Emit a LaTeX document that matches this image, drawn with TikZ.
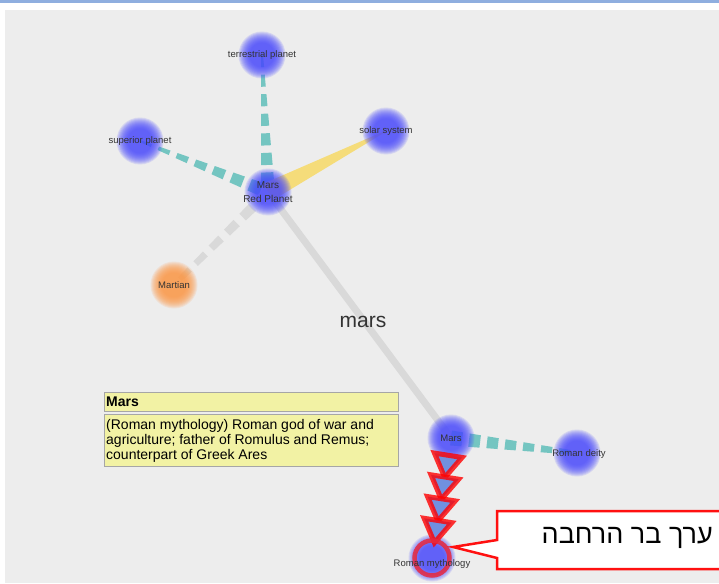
\documentclass[tikz,border=0pt]{standalone}
\usepackage{fontspec}
\setmainfont{Liberation Sans}
\newfontfamily\hebfont[Script=Hebrew]{Liberation Sans}
\TeXXeTstate=1
\usetikzlibrary{calc}
\definecolor{panel}{HTML}{EDEDED}
\definecolor{topbar}{HTML}{8FAEDF}
\definecolor{tealedge}{HTML}{74C5C1}
\definecolor{yellowedge}{HTML}{F5DC7A}
\definecolor{grayedge}{HTML}{D9D9D9}
\definecolor{nodeblue}{HTML}{4949FF}
\definecolor{nodeorange}{HTML}{FF9743}
\definecolor{boxfill}{HTML}{F2F2A4}
\definecolor{boxline}{HTML}{A6A6A6}
\definecolor{callred}{HTML}{FF1010}
\definecolor{ringred}{HTML}{E8283C}
\definecolor{trifill}{HTML}{7090E0}
\definecolor{labelgray}{HTML}{333333}
\newcommand\blob[2]{%
  \foreach \r in {23.5,22.5,...,12.5}{\fill[#2,opacity=0.14] (#1) circle (\r pt);}}
% from, to, width at from, width at to, number of dashes, colour, dash fraction
\newcommand\taperedge[7]{%
  \coordinate (pc) at ($(#1)!2!(#2)$);
  \foreach \i in {1,...,#5}{%
    \pgfmathsetmacro\ta{(\i-1)/#5}%
    \pgfmathsetmacro\tb{(\i-1+#7)/#5}%
    \pgfmathsetmacro\wa{(#3+(#4-#3)*\ta)/2}%
    \pgfmathsetmacro\wb{(#3+(#4-#3)*\tb)/2}%
    \coordinate (pa) at ($(#1)!\ta!(#2)$);
    \coordinate (pb) at ($(#1)!\tb!(#2)$);
    \fill[#6] ($(pa)!\wa pt!90:(pc)$) -- ($(pa)!\wa pt!-90:(pc)$) -- ($(pb)!\wb pt!-90:(pc)$) -- ($(pb)!\wb pt!90:(pc)$) -- cycle;
  }}
\tikzset{
  lbl/.style={text=labelgray, font=\fontsize{9.5}{11}\selectfont, inner sep=0pt},
  infobox/.style={draw=boxline, fill=boxfill, line width=1pt},
}
\begin{document}
\begin{tikzpicture}[x=1pt,y=-1pt]
\useasboundingbox (0,0) rectangle (719,583);
\fill[white] (0,0) rectangle (719,583);
\fill[topbar] (0,0) rectangle (719,3.5);
\fill[panel] (5,10) rectangle (719,583);
% node positions
\coordinate (tp) at (262,55);
\coordinate (sp) at (140,141);
\coordinate (ss) at (386,131);
\coordinate (mrp) at (268,192);
\coordinate (mt) at (174,285);
\coordinate (ml) at (451,438);
\coordinate (rd) at (577,453);
\coordinate (rm) at (432,558);
% edges
\draw[grayedge, line width=7pt] (mrp) -- (ml);
\taperedge{tp}{mrp}{2}{14}{7}{tealedge}{0.62}
\taperedge{sp}{mrp}{2}{14}{7}{tealedge}{0.62}
\taperedge{ss}{mrp}{1}{19}{1}{yellowedge}{1}
\taperedge{mrp}{mt}{11}{5}{6}{grayedge}{0.62}
\taperedge{ml}{rd}{15}{4}{7}{tealedge}{0.62}
% nodes
\blob{tp}{nodeblue}
\blob{sp}{nodeblue}
\blob{ss}{nodeblue}
\blob{mrp}{nodeblue}
\blob{mt}{nodeorange}
\blob{ml}{nodeblue}
\blob{rd}{nodeblue}
\blob{rm}{nodeblue}
% expansion triangles
\foreach \d in {15,37,59,81}{
  \coordinate (tb) at ($(ml)!\d pt+2.5pt!(rm)$);
  \coordinate (ta) at ($(ml)!\d pt+25pt!(rm)$);
  \filldraw[fill=trifill, draw=red, draw opacity=0.8, line width=5pt, line join=miter]
    ($(tb)!14pt!90:(rm)$) -- (ta) -- ($(tb)!14pt!-90:(rm)$) -- cycle;
}
\draw[ringred, opacity=0.85, line width=4.5pt] (rm) circle (17.5pt);
% labels
\node[lbl] (tpl) at (262,55) {terrestrial planet};
\node[lbl] (spl) at (140,141) {superior planet};
\node[lbl] (ssl) at (386,131) {solar system};
\node[lbl, align=center, font=\fontsize{10}{14}\selectfont] (mrpl) at (268,192) {Mars\\Red Planet};
\node[lbl] (mtl) at (174,285) {Martian};
\node[lbl] (mll) at (451,438) {Mars};
\node[lbl] (rdl) at (579,454) {Roman deity};
\node[lbl] (rml) at (432,564) {Roman mythology};
\node[text=labelgray, font=\fontsize{21}{24}\selectfont, inner sep=0pt] (edgelbl) at (363,322) {mars};
% info box
\draw[infobox] (104,392) rectangle (398,411);
\node[anchor=west, font=\bfseries\fontsize{14}{15}\selectfont, inner sep=0pt] (boxhead) at (106,402) {Mars};
\draw[infobox] (104,414) rectangle (398,466);
\node[anchor=north west, align=left, font=\fontsize{14}{15}\selectfont, inner sep=0pt] (boxbody) at (106,419)
  {(Roman mythology) Roman god of war and\\agriculture; father of Romulus and Remus;\\counterpart of Greek Ares};
% callout
\filldraw[fill=white, draw=callred, line width=2.5pt, line join=miter]
  (497,511) -- (725,511) -- (725,569) -- (497,569) -- (497,558) -- (453,547) -- (497,540) -- cycle;
\node[anchor=east, font=\hebfont\fontsize{27}{30}\selectfont, inner sep=0pt] (callout) at (713,538) {\beginR ערך בר הרחבה\endR};
\end{tikzpicture}
\end{document}
